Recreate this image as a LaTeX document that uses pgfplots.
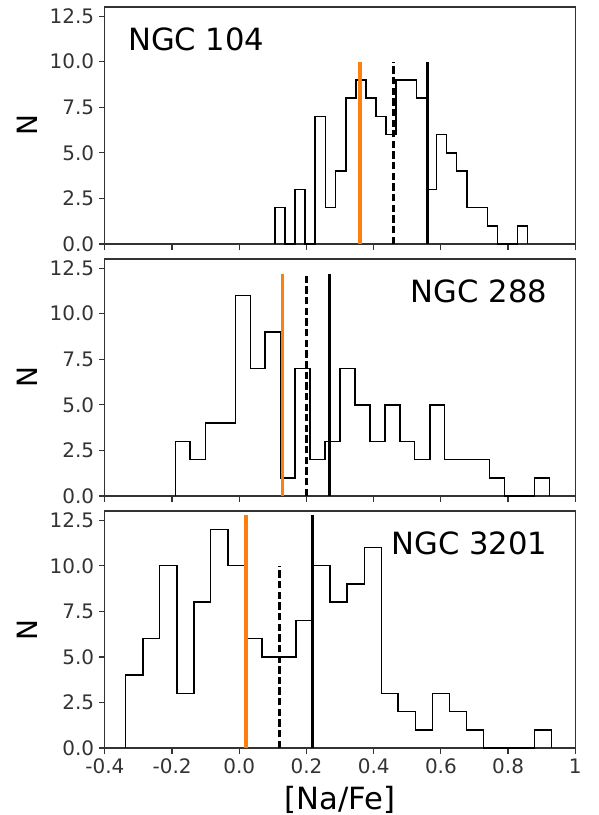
\documentclass[border=0pt]{standalone}
\usepackage{fontspec}
\setmainfont{DejaVu Sans}
\usepackage{pgfplots}
\pgfplotsset{compat=1.18}
\usetikzlibrary{calc}
\definecolor{naorange}{HTML}{FF7F0E}
\definecolor{frame}{HTML}{333333}

\pgfplotsset{
  panel/.style={
    width=353.25pt, height=178pt, scale only axis,
    xmin=-0.4, xmax=1, ymin=0, ymax=13,
    xtick={-0.4,-0.2,0,0.2,0.4,0.6,0.8,1},
    ytick={0,2.5,5,7.5,10,12.5},
    yticklabels={0.0,2.5,5.0,7.5,10.0,12.5},
    tick pos=left, tick align=outside,
    major tick length=4.5pt,
    axis line style={frame, line width=0.9pt},
    tick style={frame, line width=0.9pt},
    ticklabel style={font=\fontsize{15}{17}\selectfont, text=frame},
    ylabel={N},
    ylabel style={at={(axis description cs:-0.1656,0.5)}, anchor=center,
      font=\fontsize{21}{24}\selectfont, inner sep=0pt},
  },
  hist/.style={const plot, black, line width=1.1pt, mark=none},
  mean/.style={naorange, line width=2.4pt},
  med/.style={black, line width=1.7pt, dash pattern=on 5.5pt off 2.5pt},
  solid line/.style={black, line width=2.2pt},
}
\tikzset{tag/.style={font=\fontsize{23}{26}\selectfont, inner sep=0pt}}

\begin{document}
\begin{tikzpicture}
% NGC 104
\begin{axis}[panel, name=p1, xticklabels={,,,,,,,}]
\addplot[hist] coordinates {
  (0.106,0) (0.106,2) (0.136,0) (0.166,3) (0.196,0) (0.226,7) (0.256,2)
  (0.286,4) (0.317,8) (0.347,9) (0.377,8) (0.407,7) (0.437,6) (0.467,9)
  (0.497,9) (0.527,8) (0.557,3) (0.587,6) (0.617,5) (0.647,4) (0.678,2)
  (0.708,2) (0.738,1) (0.768,0) (0.798,0) (0.828,1) (0.858,1) (0.858,0)};
\addplot[mean] coordinates {(0.359,0) (0.359,10)};
\addplot[med] coordinates {(0.459,0) (0.459,10)};
\addplot[solid line] coordinates {(0.561,0) (0.561,10)};
\node[tag, anchor=north west] at (rel axis cs:0.049,0.915) {NGC 104};
\end{axis}

% NGC 288
\begin{axis}[panel, name=p2, xticklabels={,,,,,,,},
  at={($(p1.south west)+(0,-11.25pt)$)}, anchor=north west]
\addplot[hist] coordinates {
  (-0.190,0) (-0.190,3) (-0.146,2) (-0.101,4) (-0.057,4) (-0.012,11)
  (0.033,7) (0.077,9) (0.122,1) (0.166,7) (0.211,2) (0.255,3) (0.300,7)
  (0.344,5) (0.389,3) (0.433,5) (0.478,3) (0.522,2) (0.567,5) (0.611,2)
  (0.656,2) (0.700,2) (0.745,1) (0.789,0) (0.834,0) (0.878,1) (0.923,1)
  (0.923,0)};
\addplot[mean] coordinates {(0.129,0) (0.129,12.2)};
\addplot[med] coordinates {(0.200,0) (0.200,12.2)};
\addplot[solid line] coordinates {(0.268,0) (0.268,12.2)};
\node[tag, anchor=north east] at (rel axis cs:0.9406,0.915) {NGC 288};
\end{axis}

% NGC 3201
\begin{axis}[panel, name=p3,
  at={($(p2.south west)+(0,-11.25pt)$)}, anchor=north west,
  xticklabels={-0.4,-0.2,0.0,0.2,0.4,0.6,0.8,1},
  xlabel={[Na/Fe]},
  xlabel style={at={(axis description cs:0.5,-0.219)}, anchor=center,
    font=\fontsize{23}{26}\selectfont, inner sep=0pt}]
\addplot[hist] coordinates {
  (-0.338,0) (-0.338,4) (-0.287,6) (-0.237,10) (-0.186,3) (-0.135,8)
  (-0.085,12) (-0.034,10) (0.017,6) (0.068,5) (0.118,5) (0.169,7)
  (0.220,10) (0.270,8) (0.321,9) (0.372,11) (0.423,3) (0.473,2) (0.524,1)
  (0.575,3) (0.625,2) (0.676,1) (0.727,0) (0.777,0) (0.828,0) (0.879,1)
  (0.929,1) (0.929,0)};
\addplot[mean] coordinates {(0.020,0) (0.020,12.8)};
\addplot[med] coordinates {(0.120,0) (0.120,10)};
\addplot[solid line] coordinates {(0.217,0) (0.217,12.8)};
\node[tag, anchor=north east] at (rel axis cs:0.9406,0.915) {NGC 3201};
\end{axis}

\path[use as bounding box] ($(p3.south west)+(-78.75pt,-50.25pt)$)
  rectangle ($(p1.north east)+(17.25pt,5.25pt)$);
\end{tikzpicture}
\end{document}
